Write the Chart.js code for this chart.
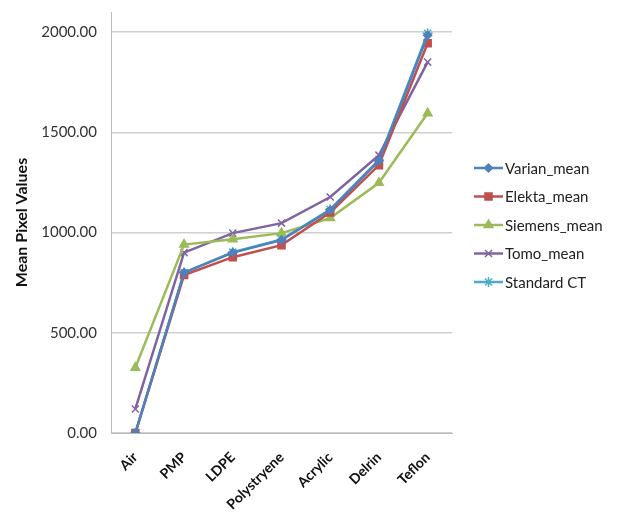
<!DOCTYPE html>
<html>
<head>
<meta charset="utf-8">
<title>Mean Pixel Values</title>
<script src="https://cdn.jsdelivr.net/npm/chart.js"></script>
<style>
  html, body { margin: 0; padding: 0; background: #fff; }
  #wrap { width: 619px; height: 517px; }
</style>
</head>
<body>
<div id="wrap"><canvas id="grafico"></canvas></div>
<script>
// dados
var materiais = ["Air", "PMP", "LDPE", "Polystryene", "Acrylic", "Delrin", "Teflon"];
var varianMean = [0, 800, 900, 962, 1112, 1358, 1984];
var elektaMean = [0, 788, 877, 937, 1100, 1336, 1944];
var siemensMean = [326, 940, 967, 997, 1072, 1248, 1595];
var tomoMean = [120, 900, 997, 1047, 1177, 1386, 1850];
var standardCT = [0, 800, 902, 965, 1115, 1362, 1994];
var ticksY = [0, 500, 1000, 1500, 2000];

var fonte = "Lato, 'Open Sans', sans-serif";

function serie(label, data, cor, estilo, raio) {
  return {
    label: label,
    data: data,
    borderColor: cor,
    backgroundColor: cor,
    borderWidth: 2.5,
    pointStyle: estilo,
    pointRadius: raio,
    pointBorderWidth: 1.5,
    tension: 0
  };
}

var datasets = [
  serie("Varian_mean", varianMean, "#4F81BD", "rectRot", 4),
  serie("Elekta_mean", elektaMean, "#C0504D", "rect", 5),
  serie("Siemens_mean", siemensMean, "#9BBB59", "triangle", 5),
  serie("Tomo_mean", tomoMean, "#8064A2", "crossRot", 5),
  serie("Standard CT", standardCT, "#4BACC6", "star", 5)
];

// legenda desenhada a mao (linha + marcador)
var legendaPlugin = {
  id: "legendaLateral",
  afterDraw: function (chart) {
    var ctx = chart.ctx;
    var x0 = 474, y0 = 168, passo = 28.5;
    ctx.save();
    chart.data.datasets.forEach(function (ds, i) {
      var y = y0 + i * passo;
      ctx.strokeStyle = ds.borderColor;
      ctx.lineWidth = 2.5;
      ctx.beginPath();
      ctx.moveTo(x0, y);
      ctx.lineTo(x0 + 29, y);
      ctx.stroke();
      ctx.fillStyle = ds.backgroundColor;
      ctx.lineWidth = 1.5;
      Chart.helpers.drawPoint(ctx, { pointStyle: ds.pointStyle, radius: ds.pointRadius, borderWidth: 1.5 }, x0 + 14.5, y);
      ctx.fillStyle = "#222";
      ctx.font = "15px " + fonte;
      ctx.textBaseline = "middle";
      ctx.textAlign = "left";
      ctx.fillText(ds.label, x0 + 31, y + 1);
    });
    ctx.restore();
  }
};

new Chart(document.getElementById("grafico"), {
  type: "line",
  data: { labels: materiais, datasets: datasets },
  plugins: [legendaPlugin],
  options: {
    responsive: true,
    maintainAspectRatio: false,
    animation: false,
    layout: { padding: { left: 0, right: 167, top: 12, bottom: 0 } },
    plugins: {
      legend: { display: false },
      tooltip: { enabled: false }
    },
    scales: {
      x: {
        offset: true,
        grid: { display: false, drawTicks: false },
        border: { color: "#bbb", width: 1 },
        ticks: {
          color: "#111",
          font: { family: fonte, size: 14, weight: "bold" },
          maxRotation: 45,
          minRotation: 45,
          padding: 16
        },
        afterFit: function (s) {
          s.height = 84;
          s.paddingLeft = 0;
          s.paddingRight = 0;
        }
      },
      y: {
        min: 0,
        max: 2100,
        grid: { color: "#cfcfcf", lineWidth: 1.5, drawTicks: false },
        border: { color: "#bbb", width: 1 },
        ticks: {
          stepSize: 500,
          color: "#333",
          padding: 14,
          font: { family: fonte, size: 15 },
          callback: function (v) { return v.toFixed(2); }
        },
        afterBuildTicks: function (s) {
          s.ticks = ticksY.map(function (v) { return { value: v }; });
        },
        afterFit: function (s) {
          s.width = 111;
          s.paddingTop = 0;
          s.paddingBottom = 0;
        },
        title: {
          display: true,
          text: "Mean Pixel Values",
          color: "#111",
          font: { family: fonte, size: 16, weight: "bold" },
          padding: { top: 12, bottom: 0 }
        }
      }
    }
  }
});
</script>
</body>
</html>
